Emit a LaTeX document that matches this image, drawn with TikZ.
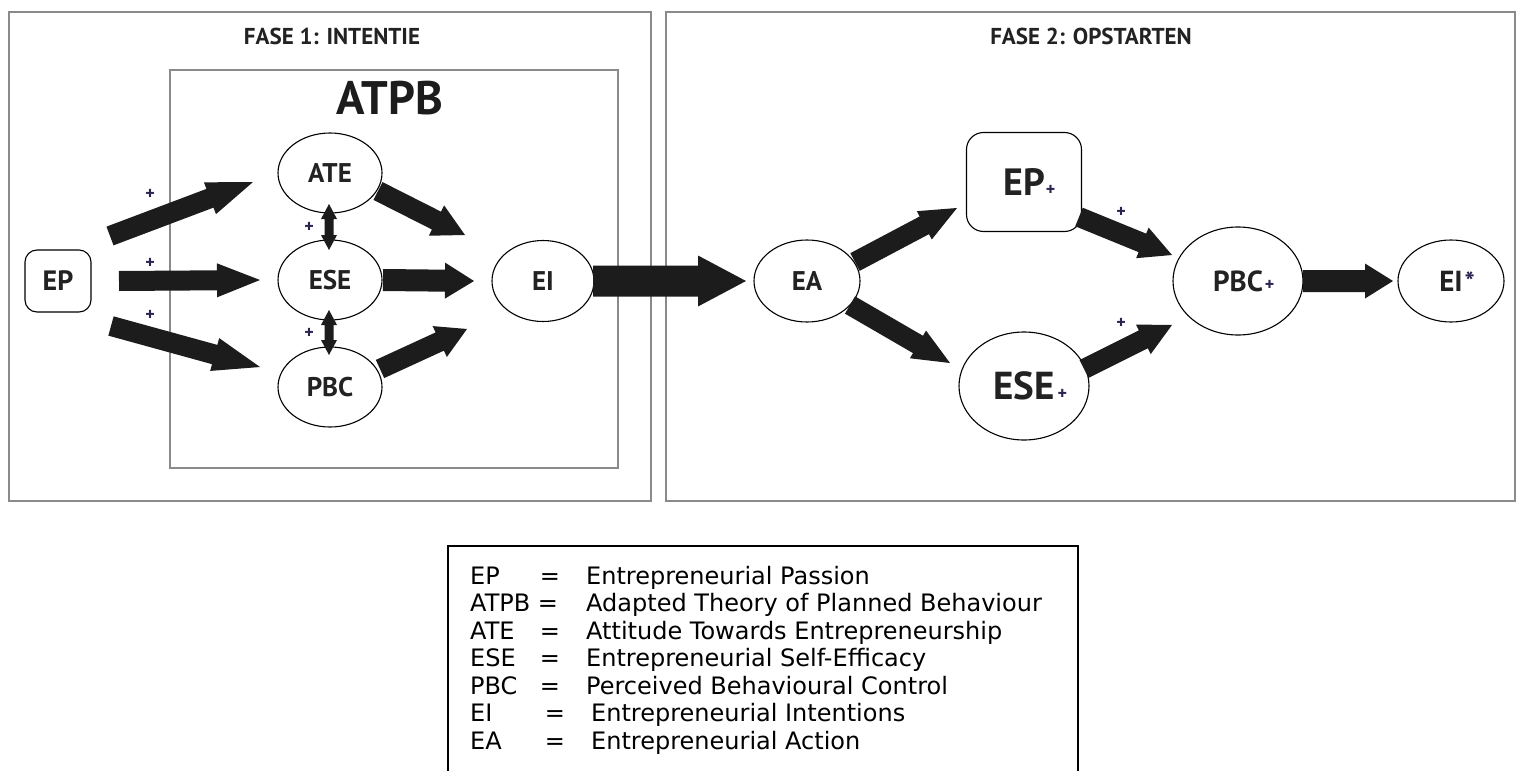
\documentclass[tikz,border=0pt]{standalone}
\usepackage{fontspec}
\setmainfont{PT Sans}
\newfontfamily\legfont{DejaVu Sans}
\usetikzlibrary{calc,shapes.geometric}
\definecolor{arrowc}{HTML}{1C1C1C}
\definecolor{framec}{HTML}{8A8A8A}
\definecolor{txtc}{HTML}{222222}
\definecolor{plusc}{HTML}{2A2450}
\newcommand\fsz[1]{\fontsize{#1}{#1}\selectfont}
% single block arrow: #1 tail centre, #2 tip, #3 half shaft, #4 half head, #5 head length
\newcommand\blockarrow[5]{%
  \coordinate (baN) at ($#2!#5!#1$);
  \fill[arrowc] ($#1!#3!90:#2$) -- ($(baN)!#3!90:#2$) -- ($(baN)!#4!90:#2$) -- #2
     -- ($(baN)!#4!-90:#2$) -- ($(baN)!#3!-90:#2$) -- ($#1!#3!-90:#2$) -- cycle;}
% double headed arrow
\newcommand\dblarrow[5]{%
  \coordinate (daN1) at ($#1!#5!#2$);
  \coordinate (daN2) at ($#2!#5!#1$);
  \fill[arrowc] #1 -- ($(daN1)!#4!90:#2$) -- ($(daN1)!#3!90:#2$) -- ($(daN2)!#3!90:#2$)
     -- ($(daN2)!#4!90:#2$) -- #2 -- ($(daN2)!#4!-90:#2$) -- ($(daN2)!#3!-90:#2$)
     -- ($(daN1)!#3!-90:#2$) -- ($(daN1)!#4!-90:#2$) -- cycle;}
\begin{document}
\begin{tikzpicture}[x=1pt,y=-1pt,
  frame/.style={draw=framec,line width=1.8pt},
  ell/.style={ellipse,draw=black,line width=1.1pt,inner sep=0pt,text=txtc,font=\bfseries\fsz{27}},
  rbox/.style={rectangle,rounded corners=#1,draw=black,line width=1.1pt,inner sep=0pt,text=txtc},
  plus/.style={text=plusc,font=\bfseries\fsz{18},inner sep=0pt},
  title/.style={text=txtc,font=\bfseries\fsz{23},inner sep=0pt},
  leg/.style={inner sep=0pt,font=\legfont\fsz{24},text=black}]
\fill[white] (0,0) rectangle (1524,771);
\useasboundingbox (0,0) rectangle (1524,771);

% frames
\draw[frame] (9,12) rectangle (651,501);
\draw[frame] (666,12) rectangle (1515,501);
\draw[frame] (170,70) rectangle (618,468);

% titles
\node[title] (T1) at (332,36) {FASE 1: INTENTIE};
\node[title] (T2) at (1091,36) {FASE 2: OPSTARTEN};
\node[inner sep=0pt,text=arrowc,font=\bfseries\fsz{47}] (ATPB) at (390,98) {ATPB};

% phase 1 nodes
\node[rbox=12pt,minimum width=66pt,minimum height=62pt,font=\bfseries\fsz{28}] (EPL) at (58,281) {EP};
\node[ell,minimum width=104pt,minimum height=80pt] (ATE) at (330,173) {ATE};
\node[ell,minimum width=104pt,minimum height=80pt] (ESE) at (330,280) {ESE};
\node[ell,minimum width=104pt,minimum height=80pt] (PBC) at (330,387) {PBC};
\node[ell,minimum width=102pt,minimum height=81pt] (EI) at (543,281) {EI};

% phase 2 nodes
\node[ell,minimum width=106pt,minimum height=82pt,font=\bfseries\fsz{27}] (EA) at (807,281) {EA};
\node[rbox=17pt,minimum width=115pt,minimum height=99pt,font=\bfseries\fsz{38}] (EPR) at (1024,182)
  {EP\rlap{\kern1pt\textcolor{plusc}{\fsz{18}+}}};
\node[ell,minimum width=130pt,minimum height=108pt,font=\bfseries\fsz{39}] (ESER) at (1024,386)
  {ESE\rlap{\kern3pt\textcolor{plusc}{\fsz{18}+}}};
\node[ell,minimum width=130pt,minimum height=108pt,font=\bfseries\fsz{29}] (PBCR) at (1238,281)
  {PBC\rlap{\kern2pt\raisebox{1pt}{\textcolor{plusc}{\fsz{18}+}}}};
\node[ell,minimum width=106pt,minimum height=82pt,font=\bfseries\fsz{29}] (EIR) at (1451,281)
  {EI\rlap{\kern2pt\textcolor{plusc}{\fsz{27}*}}};

% arrow end points
\coordinate (a1s) at ([shift={(52,-45)}]EPL.center);
\coordinate (a1e) at ([shift={(-77,9)}]ATE.center);
\coordinate (a2s) at ([shift={(61,0)}]EPL.center);
\coordinate (a2e) at ([shift={(-70,0)}]ESE.center);
\coordinate (a3s) at ([shift={(53,45)}]EPL.center);
\coordinate (a3e) at ([shift={(-70,-20)}]PBC.center);
\coordinate (a4s) at ([shift={(48,18)}]ATE.center);
\coordinate (a4e) at ([shift={(-78,-46)}]EI.center);
\coordinate (a5s) at ([shift={(53,0)}]ESE.center);
\coordinate (a5e) at ([shift={(-69,0)}]EI.center);
\coordinate (a6s) at ([shift={(50,-18)}]PBC.center);
\coordinate (a6e) at ([shift={(-76,48)}]EI.center);
\coordinate (a7s) at ([shift={(50,0)}]EI.center);
\coordinate (a7e) at ([shift={(-61,0)}]EA.center);
\coordinate (a8s) at ([shift={(48,-19)}]EA.center);
\coordinate (a8e) at ([shift={(-67,26)}]EPR.center);
\coordinate (a9s) at ([shift={(43,24)}]EA.center);
\coordinate (a9e) at ([shift={(-74,-23)}]ESER.center);
\coordinate (a10s) at ([shift={(55,35)}]EPR.center);
\coordinate (a10e) at ([shift={(-66,-26)}]PBCR.center);
\coordinate (a11s) at ([shift={(60,-17)}]ESER.center);
\coordinate (a11e) at ([shift={(-66,44)}]PBCR.center);
\coordinate (a12s) at ([shift={(65,0)}]PBCR.center);
\coordinate (a12e) at ([shift={(-58,0)}]EIR.center);
\coordinate (d1s) at ([shift={(-1,31)}]ATE.center);
\coordinate (d1e) at ([shift={(-1,-30)}]ESE.center);
\coordinate (d2s) at ([shift={(-1,30)}]ESE.center);
\coordinate (d2e) at ([shift={(-1,-32)}]PBC.center);

% arrows phase 1
\blockarrow{(a1s)}{(a1e)}{10pt}{17pt}{46pt}
\blockarrow{(a2s)}{(a2e)}{10pt}{17pt}{43pt}
\blockarrow{(a3s)}{(a3e)}{10pt}{17pt}{47pt}
\blockarrow{(a4s)}{(a4e)}{10pt}{17pt}{32pt}
\blockarrow{(a5s)}{(a5e)}{11pt}{18pt}{29pt}
\blockarrow{(a6s)}{(a6e)}{10pt}{17pt}{30pt}
\dblarrow{(d1s)}{(d1e)}{4.5pt}{8pt}{15pt}
\dblarrow{(d2s)}{(d2e)}{4.5pt}{8pt}{15pt}
% transition
\blockarrow{(a7s)}{(a7e)}{15.5pt}{25.5pt}{48pt}
% arrows phase 2
\blockarrow{(a8s)}{(a8e)}{10pt}{16pt}{37pt}
\blockarrow{(a9s)}{(a9e)}{10pt}{16pt}{37pt}
\blockarrow{(a10s)}{(a10e)}{10pt}{16.5pt}{32pt}
\blockarrow{(a11s)}{(a11e)}{10pt}{16.5pt}{32pt}
\blockarrow{(a12s)}{(a12e)}{11pt}{17.5pt}{28pt}

% plus labels
\node[plus] (p1) at (150,194) {+};
\node[plus] (p2) at (150,263) {+};
\node[plus] (p3) at (150,315) {+};
\node[plus] (p4) at (309,227) {+};
\node[plus] (p5) at (309,333) {+};
\node[plus] (p6) at (1121,212) {+};
\node[plus] (p7) at (1121,323) {+};

% legend
\draw[line width=1.8pt,black] (448,771) -- (448,546) -- (1078,546) -- (1078,771);
\node[leg,anchor=base west] (l1a) at (470,584) {EP};
\node[leg,anchor=base] (l1b) at (550,584) {=};
\node[leg,anchor=base west] (l1c) at (586,584) {Entrepreneurial Passion};
\node[leg,anchor=base west] (l2a) at (470,611.5) {ATPB};
\node[leg,anchor=base] (l2b) at (548,611.5) {=};
\node[leg,anchor=base west] (l2c) at (586,611.5) {Adapted Theory of Planned Behaviour};
\node[leg,anchor=base west] (l3a) at (470,639) {ATE};
\node[leg,anchor=base] (l3b) at (550,639) {=};
\node[leg,anchor=base west] (l3c) at (586,639) {Attitude Towards Entrepreneurship};
\node[leg,anchor=base west] (l4a) at (470,666.5) {ESE};
\node[leg,anchor=base] (l4b) at (550,666.5) {=};
\node[leg,anchor=base west] (l4c) at (586,666.5) {Entrepreneurial Self-Efficacy};
\node[leg,anchor=base west] (l5a) at (470,694) {PBC};
\node[leg,anchor=base] (l5b) at (550,694) {=};
\node[leg,anchor=base west] (l5c) at (586,694) {Perceived Behavioural Control};
\node[leg,anchor=base west] (l6a) at (470,721.5) {EI};
\node[leg,anchor=base] (l6b) at (555,721.5) {=};
\node[leg,anchor=base west] (l6c) at (591,721.5) {Entrepreneurial Intentions};
\node[leg,anchor=base west] (l7a) at (470,749) {EA};
\node[leg,anchor=base] (l7b) at (555,749) {=};
\node[leg,anchor=base west] (l7c) at (591,749) {Entrepreneurial Action};
\end{tikzpicture}
\end{document}
